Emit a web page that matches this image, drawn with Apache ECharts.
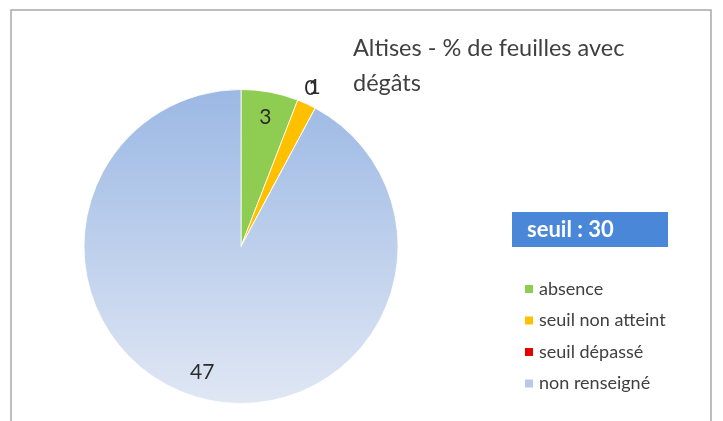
<!DOCTYPE html>
<html>
<head>
<meta charset="utf-8">
<script src="https://cdn.jsdelivr.net/npm/echarts@6/dist/echarts.min.js"></script>
<style>
  html, body { margin: 0; padding: 0; background: #fff; }
  #chart { width: 723px; height: 421px; }
</style>
</head>
<body>
<div id="chart"></div>
<script>
// Chart data
const categories = ['absence', 'seuil non atteint', 'seuil dépassé', 'non renseigné'];
const values = [3, 1, 0, 47];
const chartTitle = 'Altises - % de feuilles avec\ndégâts';
const thresholdText = 'seuil : 30';

// Styling
const FONT = 'Lato, "Open Sans", sans-serif';
const TEXT_COLOR = '#404040';
const sliceColors = [
    '#8fcd52',
    '#ffc000',
    '#e60000',
    new echarts.graphic.LinearGradient(0, 0, 0, 1, [
        { offset: 0, color: '#9bb8e4' },
        { offset: 1, color: '#e0e7f4' }
    ])
];
const legendColors = ['#8fcd52', '#ffc000', '#e60000', '#b7c9e8'];

// Pie geometry
const CX = 241, CY = 246.5, R = 157;

// Label placement: radial factor and angle nudge (degrees) per slice
const labelFactor = [0.84, 1.12, 1.1, 0.84];
const labelNudge = [0, 0, -4.5, 3];

// Mid angle (clockwise from top) of each slice, from the values
function midAngles(vals) {
    const total = vals.reduce((a, b) => a + b, 0);
    let acc = 0;
    return vals.map(v => {
        const mid = (acc + v / 2) / total * 360;
        acc += v;
        return mid;
    });
}
const mids = midAngles(values);

const chart = echarts.init(document.getElementById('chart'));

chart.setOption({
    animation: false,
    textStyle: { fontFamily: FONT },
    graphic: [
        {
            type: 'rect',
            shape: { x: 11, y: 10, width: 700, height: 430 },
            style: { fill: 'none', stroke: '#a9a9a9', lineWidth: 1.5 },
            z: 0
        },
        {
            type: 'text',
            left: 353,
            top: 31,
            style: {
                text: chartTitle,
                font: '23.5px ' + FONT,
                fill: TEXT_COLOR,
                lineHeight: 35
            }
        },
        {
            type: 'group',
            left: 512,
            top: 212,
            children: [
                {
                    type: 'rect',
                    shape: { x: 0, y: 0, width: 156, height: 35 },
                    style: { fill: '#4a87d9' }
                },
                {
                    type: 'text',
                    x: 15,
                    y: 18,
                    style: {
                        text: thresholdText,
                        font: 'bold 22px ' + FONT,
                        fill: '#ffffff',
                        verticalAlign: 'middle'
                    }
                }
            ]
        }
    ],
    legend: {
        orient: 'vertical',
        left: 518,
        top: 275,
        icon: 'rect',
        itemWidth: 10,
        itemHeight: 10,
        itemGap: 13.5,
        selectedMode: false,
        textStyle: {
            fontFamily: FONT,
            fontSize: 18,
            color: TEXT_COLOR
        },
        data: categories.map((name, i) => ({ name, itemStyle: { color: legendColors[i] } }))
    },
    series: [
        {
            type: 'pie',
            center: [CX, CY],
            radius: R,
            startAngle: 90,
            clockwise: true,
            avoidLabelOverlap: false,
            itemStyle: { borderColor: '#ffffff', borderWidth: 0.8 },
            label: {
                show: true,
                position: 'inside',
                formatter: '{c}',
                fontFamily: FONT,
                fontSize: 21,
                color: '#2b2b2b'
            },
            labelLine: { show: false },
            labelLayout: function (params) {
                const i = params.dataIndex;
                const a = (mids[i] + labelNudge[i]) * Math.PI / 180;
                const r = R * labelFactor[i];
                return {
                    x: CX + r * Math.sin(a),
                    y: CY - r * Math.cos(a),
                    align: 'center',
                    verticalAlign: 'middle'
                };
            },
            emphasis: { disabled: true },
            data: categories.map((name, i) => ({
                name,
                value: values[i],
                itemStyle: { color: sliceColors[i] }
            }))
        }
    ]
});
</script>
</body>
</html>
